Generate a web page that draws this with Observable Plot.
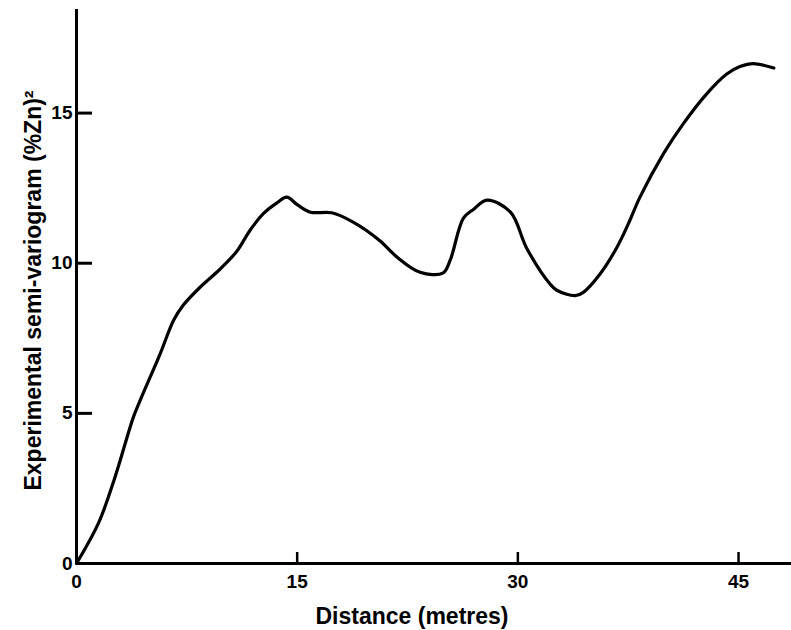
<!DOCTYPE html>
<html>
<head>
<meta charset="utf-8">
<script src="https://cdn.jsdelivr.net/npm/d3@7"></script>
<script src="https://cdn.jsdelivr.net/npm/@observablehq/plot@0.6"></script>
<style>
  html, body { margin: 0; padding: 0; background: #fff; }
  svg { display: block; }
</style>
</head>
<body>
<div id="chart"></div>
<script>
const distance = [0, 1.5, 2.6, 3.85, 4.3, 5.7, 6.6, 7.25, 8.4, 9.75, 10.9, 11.8, 12.7, 13.6, 14.3, 15.0, 15.9, 17.35, 18.8, 20.6, 21.8, 23.35, 24.9, 25.4, 26.3, 27.0, 27.9, 29.5, 30.6, 32.2, 32.65, 33.9, 34.45, 35.6, 36.7, 37.5, 38.3, 39.9, 41.25, 42.85, 44.2, 45.1, 46.0, 47.4];
const semivariogram = [0, 1.35, 2.85, 4.85, 5.4, 7.0, 8.1, 8.6, 9.2, 9.8, 10.4, 11.1, 11.65, 12.0, 12.2, 11.95, 11.7, 11.68, 11.37, 10.76, 10.2, 9.7, 9.67, 10.1, 11.5, 11.8, 12.1, 11.7, 10.5, 9.3, 9.1, 8.92, 9.03, 9.65, 10.5, 11.3, 12.2, 13.65, 14.65, 15.65, 16.3, 16.55, 16.65, 16.5];
const xTicks = [0, 15, 30, 45];
const yTicks = [0, 5, 10, 15];
const xLabel = "Distance (metres)";
const yLabel = "Experimental semi-variogram (%Zn)²";

const data = distance.map((d, i) => ({x: d, y: semivariogram[i]}));
const font = "'Liberation Sans', Arial, sans-serif";

const chart = Plot.plot({
  width: 791,
  height: 630,
  marginLeft: 76,
  marginRight: 0,
  marginTop: 9,
  marginBottom: 67,
  style: {fontFamily: font, background: "#fff", color: "#000"},
  x: {domain: [0, 48.6]},
  y: {domain: [0, 18.45]},
  marks: [
    Plot.axisX(xTicks, {tickSize: -11, tickPadding: 22, strokeWidth: 2.5, fontSize: 19, fontWeight: "bold", label: null, tickFormat: d => String(d)}),
    Plot.axisY(yTicks, {tickSize: -16, tickPadding: 20, strokeWidth: 3, fontSize: 19, fontWeight: "bold", label: null, tickFormat: d => String(d)}),
    Plot.ruleX([0], {stroke: "#000", strokeWidth: 3}),
    Plot.ruleY([0], {stroke: "#000", strokeWidth: 3}),
    Plot.line(data, {x: "x", y: "y", stroke: "#000", strokeWidth: 3.2, curve: "catmull-rom"}),
    Plot.text([xLabel], {frameAnchor: "bottom", dx: -22, dy: 44, lineAnchor: "top", fontSize: 23, fontWeight: "bold", text: d => d}),
    Plot.text([yLabel], {frameAnchor: "left", textAnchor: "middle", dx: -36, dy: 4, rotate: -90, lineAnchor: "bottom", fontSize: 23, fontWeight: "bold", text: d => d})
  ]
});
document.getElementById("chart").appendChild(chart);
</script>
</body>
</html>
